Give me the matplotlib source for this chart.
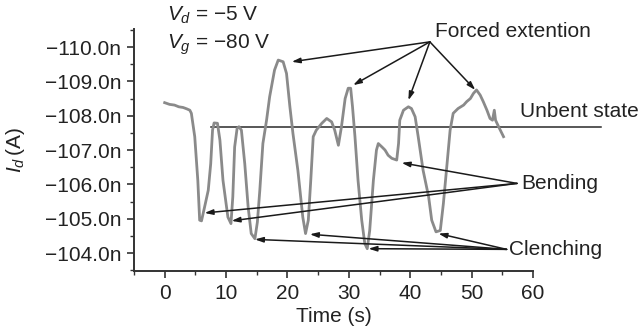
import matplotlib
matplotlib.use("Agg")
import matplotlib.pyplot as plt
from matplotlib.ticker import MultipleLocator, FuncFormatter

plt.rcParams['font.family'] = ['Liberation Sans', 'DejaVu Sans']
plt.rcParams['mathtext.fontset'] = 'custom'
plt.rcParams['mathtext.rm'] = 'Liberation Sans'
plt.rcParams['mathtext.it'] = 'Liberation Sans:italic'

# Time (s)
time_s = [0, 0.8, 1.6, 2.3, 3.0, 3.6, 4.1, 4.35,
          4.9, 5.4, 5.7, 6.0, 6.5, 7.1, 7.5, 7.8,
          8.05, 8.6, 9.0, 9.5, 10.3, 10.8, 11.1, 11.4,
          11.8, 12.1, 12.5, 13.05, 13.6, 14.1, 14.7, 15.1,
          15.5, 16.0, 16.6, 17.1, 17.9, 18.5, 19.3, 19.85,
          20.4, 20.9, 21.7, 22.5, 22.95, 23.4, 23.8, 24.2,
          24.7, 25.6, 26.4, 27.2, 27.7, 28.3, 28.8, 29.4,
          29.9, 30.3, 30.6, 31.0, 31.5, 32.1, 32.6, 33.0,
          33.4, 34.0, 34.5, 34.8, 35.4, 35.9, 36.4, 37.0,
          37.8, 38.1, 38.3, 38.9, 39.7, 40.2, 40.8, 41.3,
          42.1, 43.0, 43.5, 44.2, 44.9, 45.4, 46.0, 46.5,
          47.0, 47.8, 48.7, 49.2, 49.8, 50.3, 50.8, 51.4,
          51.9, 52.5, 53.0, 53.4, 53.7, 53.9, 54.4, 55.2]

# Drain current (nA)
current_nA = [-108.38, -108.33, -108.31, -108.26, -108.24, -108.20, -108.16, -108.07,
              -107.39, -106.12, -104.96, -104.94, -105.34, -105.83, -106.60, -107.58,
              -107.79, -107.78, -107.29, -106.12, -105.05, -104.86, -105.64, -107.09,
              -107.63, -107.68, -107.58, -106.60, -105.34, -104.57, -104.42, -104.90,
              -105.83, -107.19, -107.87, -108.55, -109.33, -109.62, -109.57, -109.23,
              -108.26, -107.48, -106.41, -105.05, -104.57, -104.96, -106.12, -107.39,
              -107.58, -107.78, -107.92, -107.82, -107.58, -107.14, -107.68, -108.50,
              -108.80, -108.80, -108.26, -107.39, -106.12, -104.96, -104.28, -104.13,
              -104.66, -106.12, -107.00, -107.19, -107.09, -107.00, -106.85, -106.76,
              -106.71, -107.19, -107.87, -108.16, -108.26, -108.21, -107.97, -107.39,
              -106.41, -105.64, -104.96, -104.62, -104.66, -105.44, -106.60, -107.58,
              -108.07, -108.21, -108.31, -108.41, -108.50, -108.65, -108.75, -108.60,
              -108.41, -108.16, -107.92, -107.87, -108.16, -107.87, -107.68, -107.39]

unbent_level = -107.66
unbent_span = [7.6, 71.0]

forced_label = "Forced extention"
forced_origin = (43.2, -110.15)
forced_targets = [(20.7, -109.57), (30.7, -108.89), (39.7, -108.45), (50.6, -108.75)]

bending_label = "Bending"
bending_origin = (57.4, -106.03)
bending_targets = [(6.5, -105.17), (10.9, -104.94), (38.6, -106.63)]

clench_label = "Clenching"
clench_origin = (55.7, -104.11)
clench_targets = [(14.7, -104.40), (23.65, -104.55), (33.2, -104.13), (44.6, -104.57)]

fig = plt.figure(figsize=(6.41, 3.35), dpi=100)
ax = fig.add_axes([0.209, 0.191, 0.6225, 0.722])

fs = 15
ink = '#222222'

ax.plot(time_s, current_nA, color='#8a8a8a', lw=2.0, zorder=3)
ax.plot(unbent_span, [unbent_level, unbent_level], color='#2a2a2a', lw=1.1,
        clip_on=False, zorder=2)

ax.set_xlim(-5, 60)
ax.set_ylim(-103.48, -110.52)

ax.xaxis.set_major_locator(MultipleLocator(10))
ax.xaxis.set_minor_locator(MultipleLocator(5))
ax.yaxis.set_major_locator(MultipleLocator(1))
ax.yaxis.set_minor_locator(MultipleLocator(0.5))
ax.yaxis.set_major_formatter(FuncFormatter(lambda v, p: f"{v:.1f}n".replace('-', '\u2212')))

for s in ['top', 'right']:
    ax.spines[s].set_visible(False)
for s in ['left', 'bottom']:
    ax.spines[s].set_color('#333333')
    ax.spines[s].set_linewidth(1.4)

ax.tick_params(which='major', direction='out', length=5, width=1.2, color='#333333',
               labelsize=fs, labelcolor=ink, pad=4)
ax.tick_params(which='minor', direction='out', length=3, width=1.0, color='#333333')

ax.set_xlabel("Time (s)", fontsize=fs, color=ink, labelpad=3)
ax.set_ylabel(r"$I_d\,$(A)", fontsize=fs, color=ink)
ax.yaxis.set_label_coords(-0.268, 0.5)

ax.text(0.3, -110.93, r"$V_d$" + " = \u22125 V", fontsize=fs,
        color=ink, ha='left', va='center', clip_on=False)
ax.text(0.3, -110.06, r"$V_g$" + " = \u221280 V", fontsize=fs,
        color=ink, ha='left', va='center', clip_on=False)

aprops = dict(arrowstyle='-|>,head_length=0.7,head_width=0.22', color='#1a1a1a',
              lw=1.1, mutation_scale=7, shrinkA=0, shrinkB=0)


def group(label, origin, targets, text_pos):
    for tx, ty in targets:
        ax.annotate('', xy=(tx, ty), xytext=origin, arrowprops=aprops,
                    annotation_clip=False)
    ax.text(text_pos[0], text_pos[1], label, fontsize=fs, color=ink,
            ha='left', va='center', clip_on=False)


group(forced_label, forced_origin, forced_targets, (44.0, -110.44))
group(bending_label, bending_origin, bending_targets, (58.1, -106.03))
group(clench_label, clench_origin, clench_targets, (56.1, -104.11))
ax.text(57.9, -108.13, "Unbent state", fontsize=fs, color=ink, ha='left', va='center',
        clip_on=False)

fig.savefig("out.png", dpi=100)
